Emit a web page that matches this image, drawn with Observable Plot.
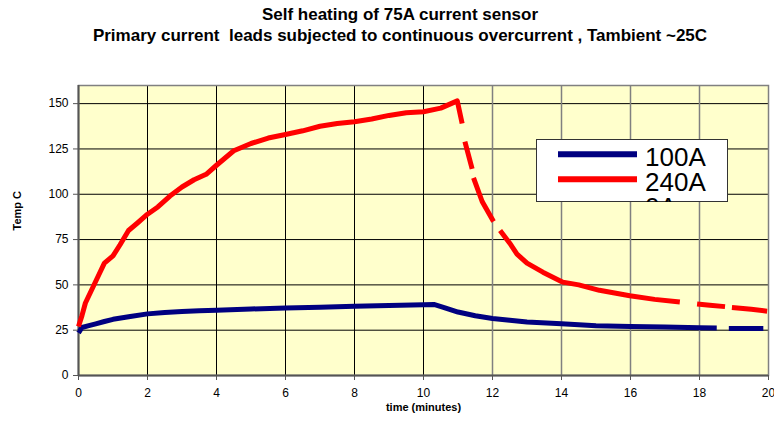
<!DOCTYPE html>
<html>
<head>
<meta charset="utf-8">
<script src="https://cdn.jsdelivr.net/npm/d3@7"></script>
<script src="https://cdn.jsdelivr.net/npm/@observablehq/plot@0.6"></script>
<style>
  body { margin: 0; background: #fff; font-family: "Liberation Sans", Arial, sans-serif; }
  #wrap { position: relative; width: 774px; height: 421px; overflow: hidden; background: #fff; }
  .title { position: absolute; left: 0; width: 800px; text-align: center; font-weight: bold; font-size: 17px; line-height: 17px; color: #000; white-space: pre; }
  #chart { position: absolute; left: 0; top: 55px; }
  #legend { position: absolute; left: 536px; top: 139px; }
</style>
</head>
<body>
<div id="wrap">
  <div class="title" id="t1" style="top:6px"></div>
  <div class="title" id="t2" style="top:27px"></div>
  <div id="chart"></div>
  <div id="legend"></div>
</div>
<script>
const titleLine1 = "Self heating of 75A current sensor";
const titleLine2 = "Primary current  leads subjected to continuous overcurrent , Tambient ~25C";
const yLabel = "Temp C";
const xLabel = "time (minutes)";
const seriesNames = ["100A", "240A", "0A"];
const seriesColors = ["#000080", "#FF0000"];

const xTicks = [0, 2, 4, 6, 8, 10, 12, 14, 16, 18, 20];
const yTicks = [0, 25, 50, 75, 100, 125, 150];

// 100A series (null = gap in the plotted line)
const tBlue = [0, 0.1, 0.3, 0.5, 0.75, 1, 1.5, 2, 2.5, 3, 3.5, 4, 5, 6, 7, 8, 9, 10, 10.3, 10.6, 11, 11.5, 12, 12.5, 13, 14, 15, 16, 17, 18, 18.5, null, 18.85, 19.85];
const vBlue = [23.5, 26.5, 27.5, 28.5, 29.8, 31, 32.5, 34, 34.8, 35.3, 35.7, 36, 36.7, 37.2, 37.6, 38.2, 38.6, 39, 39.2, 37.5, 35, 33, 31.5, 30.5, 29.5, 28.5, 27.5, 27, 26.7, 26.3, 26.2, null, 26, 26];

// 240A series
const tRed = [0, 0.1, 0.2, 0.4, 0.6, 0.75, 1.0, 1.2, 1.45, 1.7, 2.0, 2.3, 2.65, 3.0, 3.35, 3.7, 4.0, 4.5, 5.0, 5.5, 6.0, 6.5, 7.0, 7.5, 8.0, 8.5, 9.0, 9.5, 10.0, 10.5, 10.98, 11.12, null, 11.2, 11.41, null, 11.45, 11.7, 12.03, null, 12.22, 12.5, 12.71, 13.0, 13.46, 14.04, 14.5, 15.1, 15.98, 16.7, 17.43, null, 17.93, 18.3, 18.74, null, 18.94, 19.5, 19.96];
const vRed = [27, 33, 40, 48, 56, 62, 66, 72, 80, 84, 89, 93, 99, 104, 108, 111, 116, 124, 128, 131, 133, 135, 137.5, 139, 140, 141.5, 143.5, 145, 145.5, 147.5, 151.5, 139, null, 129, 114, null, 109, 96, 85, null, 80, 73, 67, 62, 57, 51.5, 50, 47, 44, 42, 40.5, null, 39.5, 38.8, 38, null, 37.5, 36.5, 35.5];

const blueData = tBlue.map((t, i) => ({t, v: vBlue[i]}));
const redData = tRed.map((t, i) => ({t, v: vRed[i]}));

document.getElementById("t1").textContent = titleLine1;
document.getElementById("t2").textContent = titleLine2;

const chart = Plot.plot({
  width: 774,
  height: 366,
  marginTop: 30,
  marginBottom: 46,
  marginLeft: 78,
  marginRight: 6,
  x: {domain: [0, 20]},
  y: {domain: [0, 160]},
  style: {fontFamily: "Liberation Sans, Arial, sans-serif", fontSize: "12px", color: "#000", background: "transparent", overflow: "visible"},
  marks: [
    Plot.frame({fill: "#FFFFCC"}),
    Plot.gridY(yTicks.filter(d => d > 0), {stroke: "#000", strokeOpacity: 1, strokeWidth: 1}),
    Plot.gridX(xTicks.filter(d => d > 0 && d <= 10), {stroke: "#000", strokeOpacity: 1, strokeWidth: 1}),
    Plot.gridX(xTicks.filter(d => d > 10 && d < 20), {stroke: "#808080", strokeOpacity: 1, strokeWidth: 1.5}),
    Plot.frame({stroke: "#808080", strokeWidth: 1.5}),
    Plot.ruleX([0], {stroke: "#555", strokeWidth: 2}),
    Plot.ruleY([0], {stroke: "#555", strokeWidth: 2}),
    Plot.line(blueData, {x: "t", y: "v", stroke: seriesColors[0], strokeWidth: 5, strokeLinecap: "butt"}),
    Plot.line(redData, {x: "t", y: "v", stroke: seriesColors[1], strokeWidth: 5, strokeLinecap: "butt"}),
    Plot.axisX(xTicks, {tickSize: 5, tickPadding: 8, stroke: "#555", label: null, fontSize: 12}),
    Plot.axisY(yTicks, {tickSize: 5, tickPadding: 5, stroke: "#555", label: null, fontSize: 12}),
    Plot.text([yLabel], {frameAnchor: "left", dx: -61, rotate: -90, fontWeight: "bold", fontSize: 11}),
    Plot.text([xLabel], {frameAnchor: "bottom", dy: 35, dx: 0, fontWeight: "bold", fontSize: 11})
  ]
});
document.getElementById("chart").appendChild(chart);

// Legend (clipped box, third entry partially hidden as in the original)
const lg = d3.create("svg").attr("width", 192).attr("height", 63)
  .style("font-family", "Liberation Sans, Arial, sans-serif");
lg.append("rect").attr("x", 0.5).attr("y", 0.5).attr("width", 191).attr("height", 62)
  .attr("fill", "#fff").attr("stroke", "#333");
const baselines = [26.7, 51.7, 76.7];
seriesNames.forEach((name, i) => {
  if (i < seriesColors.length) {
    lg.append("line").attr("x1", 22).attr("x2", 101)
      .attr("y1", baselines[i] - 11.5).attr("y2", baselines[i] - 11.5)
      .attr("stroke", seriesColors[i]).attr("stroke-width", 6);
  }
  lg.append("text").attr("x", 109).attr("y", baselines[i])
    .attr("font-size", 26).attr("fill", "#000").text(name);
});
document.getElementById("legend").appendChild(lg.node());
</script>
</body>
</html>
